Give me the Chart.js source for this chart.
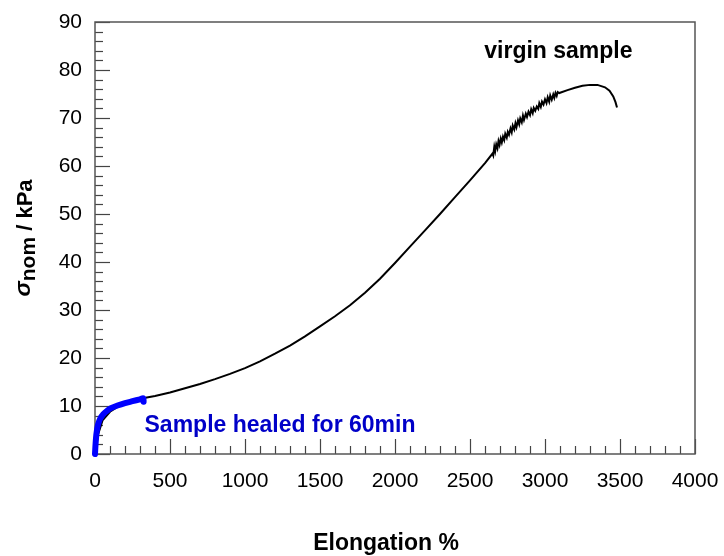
<!DOCTYPE html>
<html>
<head>
<meta charset="utf-8">
<script src="https://cdn.jsdelivr.net/npm/chart.js@4/dist/chart.umd.min.js"></script>
<style>
    body { margin: 0; background: #fff; }
    canvas { display: block; }
</style>
</head>
<body>
<canvas id="stressChart" width="724" height="556"></canvas>
<script>
// Elongation (%) and nominal stress (kPa)
const virginElongation = [
    0, 20, 50, 100, 150, 200, 300, 400, 500, 600, 700, 800, 900, 1000,
    1100, 1200, 1300, 1400, 1500, 1600, 1700, 1800, 1900, 2000, 2100, 2200,
    2300, 2400, 2500, 2600,
    2650, 2655, 2662, 2668, 2675, 2683, 2690, 2697, 2705, 2712, 2720, 2728,
    2735, 2745, 2752, 2760, 2770, 2778, 2785, 2795, 2803, 2810, 2820, 2828,
    2835, 2845, 2853, 2860, 2872, 2880, 2890, 2900, 2908, 2918, 2925, 2935,
    2945, 2955, 2962, 2972, 2980, 2990, 3000, 3010, 3018, 3028, 3035, 3045,
    3055, 3062, 3070, 3078, 3085, 3095,
    3150, 3200, 3250, 3300, 3350, 3400, 3430, 3455, 3470, 3480
];
const virginStress = [
    0, 4, 7, 8.8, 9.8, 10.6, 11.5, 12.1, 12.8, 13.7, 14.6, 15.6, 16.7, 17.9,
    19.3, 20.9, 22.6, 24.5, 26.6, 28.7, 31.0, 33.6, 36.5, 39.8, 43.2, 46.6,
    50.0, 53.5, 57.0, 60.6,
    62.6, 62.2, 64.0, 63.1, 64.5, 63.7, 65.2, 64.4, 65.7, 64.9, 66.1, 65.4,
    66.7, 65.9, 67.1, 66.5, 67.8, 67.0, 68.4, 67.6, 68.9, 68.1, 69.5, 68.7,
    69.9, 69.1, 70.5, 69.6, 70.9, 70.2, 71.3, 70.6, 71.8, 71.0, 72.1, 71.5,
    72.4, 71.9, 73.1, 72.3, 73.4, 72.8, 73.9, 73.1, 74.3, 73.4, 74.7, 73.8,
    74.9, 74.2, 75.2, 74.6, 75.4, 75.2,
    75.8, 76.3, 76.7, 76.9, 76.9, 76.4, 75.7, 74.5, 73.3, 72.2
];

const healedElongation = [0, 4, 10, 20, 35, 55, 80, 110, 150, 200, 250, 300, 322, 324];
const healedStress = [0, 2.2, 4.3, 6.1, 7.4, 8.3, 9.0, 9.6, 10.1, 10.6, 11.0, 11.4, 11.6, 10.9];

const xTicks = [0, 500, 1000, 1500, 2000, 2500, 3000, 3500, 4000];
const yTicks = [0, 10, 20, 30, 40, 50, 60, 70, 80, 90];

const fontFamily = "'Liberation Sans', Arial, Helvetica, sans-serif";

function toPoints(xs, ys) {
    return xs.map((x, i) => ({ x: x, y: ys[i] }));
}

// inward major/minor ticks plus the box around the plot
const frameTicks = {
    id: 'frameTicks',
    beforeDatasetsDraw(chart) {
        const ctx = chart.ctx;
        const area = chart.chartArea;
        const xs = chart.scales.x;
        const ys = chart.scales.y;
        ctx.save();
        ctx.strokeStyle = '#444';
        ctx.lineWidth = 1.2;
        for (let v = 0; v <= 4000; v += 100) {
            const px = Math.round(xs.getPixelForValue(v)) + 0.5;
            const len = v % 500 === 0 ? 15 : 8;
            ctx.beginPath();
            ctx.moveTo(px, area.bottom);
            ctx.lineTo(px, area.bottom - len);
            ctx.stroke();
        }
        for (let v = 0; v <= 90; v += 2) {
            const py = Math.round(ys.getPixelForValue(v)) + 0.5;
            const len = v % 10 === 0 ? 15 : 8;
            ctx.beginPath();
            ctx.moveTo(area.left, py);
            ctx.lineTo(area.left + len, py);
            ctx.stroke();
        }
        ctx.strokeStyle = '#555';
        ctx.lineWidth = 1.5;
        ctx.strokeRect(area.left, area.top, area.right - area.left, area.bottom - area.top);
        ctx.restore();
    },
    afterDraw(chart) {
        const ctx = chart.ctx;
        const xs = chart.scales.x;
        const ys = chart.scales.y;
        ctx.save();
        ctx.font = 'bold 23px ' + fontFamily;
        ctx.textBaseline = 'alphabetic';
        ctx.textAlign = 'left';
        ctx.fillStyle = '#000';
        ctx.fillText('virgin sample', xs.getPixelForValue(2595), ys.getPixelForValue(82.5));
        ctx.fillStyle = '#0000c8';
        ctx.fillText('Sample healed for 60min', xs.getPixelForValue(330), ys.getPixelForValue(4.6));

        // x axis title
        ctx.fillStyle = '#000';
        ctx.textAlign = 'center';
        ctx.fillText('Elongation %', 386, 550);

        // y axis title with subscript
        ctx.textAlign = 'left';
        ctx.translate(32, 238);
        ctx.rotate(-Math.PI / 2);
        const sigma = '\u03c3';
        const sub = 'nom';
        const rest = ' / kPa';
        ctx.font = 'italic bold 23px ' + fontFamily;
        const w1 = ctx.measureText(sigma).width;
        ctx.font = 'bold 21px ' + fontFamily;
        const w2 = ctx.measureText(sub).width;
        ctx.font = 'bold 22px ' + fontFamily;
        const w3 = ctx.measureText(rest).width;
        let x0 = -(w1 + w2 + w3) / 2;
        ctx.font = 'italic bold 23px ' + fontFamily;
        ctx.fillText(sigma, x0, -2);
        x0 += w1;
        ctx.font = 'bold 21px ' + fontFamily;
        ctx.fillText(sub, x0, 3);
        x0 += w2;
        ctx.font = 'bold 22px ' + fontFamily;
        ctx.fillText(rest, x0, 0);
        ctx.restore();
    }
};

const ctx = document.getElementById('stressChart').getContext('2d');
new Chart(ctx, {
    type: 'scatter',
    data: {
        datasets: [{
            label: 'virgin sample',
            data: toPoints(virginElongation, virginStress),
            showLine: true,
            borderColor: '#000',
            borderWidth: 2,
            pointRadius: 0,
            tension: 0,
            order: 2,
            clip: 6
        }, {
            label: 'Sample healed for 60min',
            data: toPoints(healedElongation, healedStress),
            showLine: true,
            borderColor: '#0000ff',
            borderWidth: 6,
            borderCapStyle: 'round',
            borderJoinStyle: 'round',
            pointRadius: 0,
            tension: 0.3,
            order: 1,
            clip: 6
        }]
    },
    options: {
        responsive: false,
        animation: false,
        layout: {
            padding: { top: 22, right: 29, bottom: 0, left: 0 }
        },
        plugins: {
            legend: { display: false },
            tooltip: { enabled: false }
        },
        scales: {
            x: {
                type: 'linear',
                min: 0,
                max: 4000,
                afterBuildTicks: scale => {
                    scale.ticks = xTicks.map(v => ({ value: v }));
                },
                afterFit: scale => {
                    scale.height = 102;
                    scale.paddingLeft = 0;
                    scale.paddingRight = 0;
                },
                grid: { display: false, drawTicks: false },
                border: { display: false },
                ticks: {
                    color: '#000',
                    padding: 15,
                    maxRotation: 0,
                    autoSkip: false,
                    callback: v => String(v),
                    font: { family: fontFamily, size: 21 }
                }
            },
            y: {
                type: 'linear',
                min: 0,
                max: 90,
                afterBuildTicks: scale => {
                    scale.ticks = yTicks.map(v => ({ value: v }));
                },
                afterFit: scale => {
                    scale.width = 95;
                    scale.paddingTop = 0;
                    scale.paddingBottom = 0;
                },
                grid: { display: false, drawTicks: false },
                border: { display: false },
                ticks: {
                    color: '#000',
                    padding: 13,
                    autoSkip: false,
                    callback: v => String(v),
                    font: { family: fontFamily, size: 21 }
                }
            }
        }
    },
    plugins: [frameTicks]
});
</script>
</body>
</html>
